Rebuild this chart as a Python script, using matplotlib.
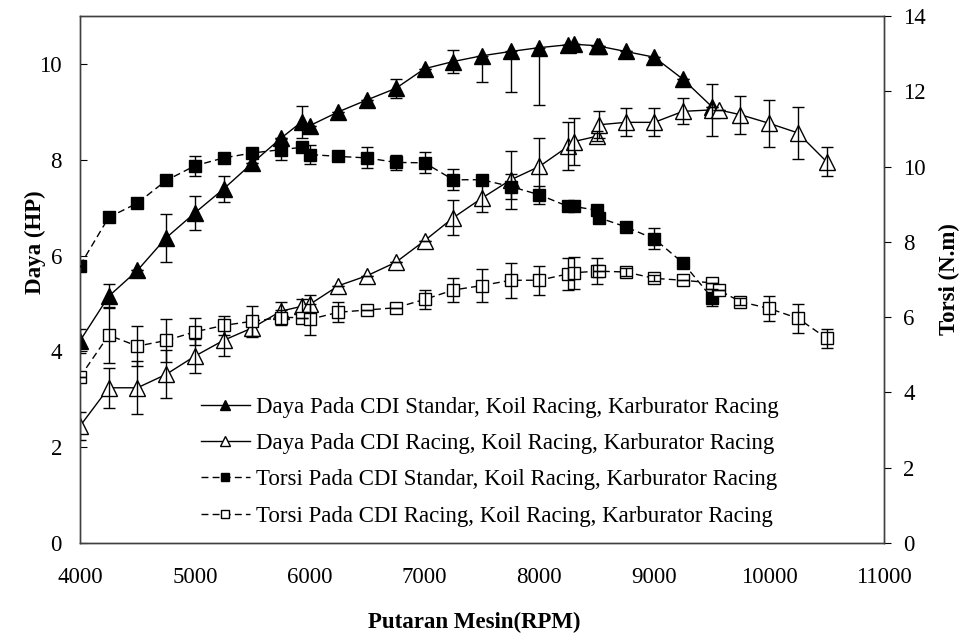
import matplotlib
matplotlib.use('Agg')
import matplotlib.pyplot as plt
import numpy as np

plt.rcParams['font.family'] = ['Liberation Serif', 'DejaVu Serif']

# RPM points (some runs were logged twice near 5900, 8250, 8500 and 9500)
rpm_std = [4000, 4250, 4500, 4750, 5000, 5250, 5500, 5750, 5930, 6000, 6250, 6500, 6750,
           7000, 7250, 7500, 7750, 8000, 8250, 8300, 8500, 8520, 8750, 9000, 9250, 9500]
rpm_rac = rpm_std + [9560, 9750, 10000, 10250, 10500]

# Daya (HP), CDI standar
daya_std = [4.22, 5.15, 5.69, 6.37, 6.89, 7.39, 7.93, 8.45, 8.79, 8.71, 9.00, 9.25, 9.49,
            9.90, 10.05, 10.17, 10.26, 10.34, 10.40, 10.41, 10.38, 10.37, 10.26, 10.14, 9.68, 9.11]
daya_std_lo = [0.25, 0.25, 0, 0.5, 0.35, 0.27, 0, 0, 0.34, 0, 0, 0, 0.2,
               0, 0.23, 0.54, 0.85, 1.19, 0, 0, 0, 0, 0, 0, 0, 0]
daya_std_hi = [0.25, 0.25, 0, 0.5, 0.35, 0.27, 0, 0, 0.34, 0, 0, 0, 0.2,
               0, 0.23, 0, 0, 0, 0, 0, 0, 0, 0, 0, 0, 0]

# Daya (HP), CDI racing
daya_rac = [2.44, 3.24, 3.24, 3.52, 3.90, 4.23, 4.49, 4.84, 4.94, 4.98, 5.37, 5.58, 5.86,
            6.31, 6.79, 7.20, 7.58, 7.86, 8.28, 8.38, 8.49, 8.73, 8.78, 8.78, 9.01, 9.04,
            9.04, 8.94, 8.76, 8.56, 7.96]
daya_rac_err = [0.3, 0.42, 0.55, 0.5, 0.36, 0.33, 0.19, 0.18, 0.15, 0.2, 0, 0, 0,
                0, 0.36, 0.3, 0.6, 0.6, 0.5, 0.5, 0.1, 0.28, 0.29, 0.29, 0.27, 0.55,
                0, 0.4, 0.49, 0.54, 0.3]

# Torsi (N.m), CDI standar
torsi_std = [7.37, 8.65, 9.03, 9.63, 10.02, 10.23, 10.36, 10.45, 10.51, 10.32, 10.27, 10.23, 10.11,
             10.10, 9.65, 9.65, 9.47, 9.25, 8.94, 8.94, 8.84, 8.64, 8.40, 8.08, 7.44, 6.52]
torsi_std_err = [0, 0, 0, 0, 0.26, 0, 0, 0.28, 0, 0.24, 0, 0.28, 0.21,
                 0.28, 0.28, 0, 0.33, 0.24, 0, 0, 0, 0, 0.1, 0.28, 0, 0.22]

# Torsi (N.m), CDI racing
torsi_rac = [4.41, 5.52, 5.23, 5.38, 5.61, 5.78, 5.89, 5.99, 5.99, 5.94, 6.13, 6.19, 6.25,
             6.47, 6.72, 6.84, 6.98, 6.98, 7.15, 7.18, 7.22, 7.22, 7.20, 7.03, 6.98, 6.91,
             6.72, 6.41, 6.23, 5.97, 5.44]
torsi_rac_err = [0, 0.74, 0.53, 0.57, 0.36, 0.25, 0.4, 0.2, 0, 0.42, 0.26, 0, 0,
                 0.25, 0.33, 0.43, 0.47, 0.38, 0.43, 0.43, 0.34, 0, 0.1, 0.08, 0, 0,
                 0, 0.1, 0.33, 0.38, 0.25]

labels = ['Daya Pada CDI Standar, Koil Racing, Karburator Racing',
          'Daya Pada CDI Racing, Koil Racing, Karburator Racing',
          'Torsi Pada CDI Standar, Koil Racing, Karburator Racing',
          'Torsi Pada CDI Racing, Koil Racing, Karburator Racing']

fig = plt.figure(figsize=(9.63, 6.39), dpi=100)
ax = fig.add_axes([80/963, 96/639, 804/963, 527/639])
ax2 = ax.twinx()

eb = dict(fmt='none', ecolor='black', elinewidth=1, capsize=4, capthick=1, zorder=5)

h1, = ax.plot(rpm_std, daya_std, '-^', color='black', lw=1, ms=12, mfc='black', mec='black')
ax.errorbar(rpm_std, daya_std, yerr=[daya_std_lo, daya_std_hi], **eb)
h2, = ax.plot(rpm_rac, daya_rac, '-^', color='black', lw=1, ms=12, mfc='white', mec='black')
ax.errorbar(rpm_rac, daya_rac, yerr=daya_rac_err, **eb)

h3, = ax2.plot(rpm_std, torsi_std, 's', ls=(0, (5, 3)), color='black', lw=1, ms=9,
               mfc='black', mec='black')
ax2.errorbar(rpm_std, torsi_std, yerr=torsi_std_err, **eb)
h4, = ax2.plot(rpm_rac, torsi_rac, 's', ls=(0, (5, 3)), color='black', lw=1, ms=9,
               mfc='white', mec='black')
ax2.errorbar(rpm_rac, torsi_rac, yerr=torsi_rac_err, **eb)

ax.set_xlim(4000, 11000)
ax.set_ylim(0, 11)
ax2.set_ylim(0, 14)
ax.set_xticks(np.arange(4000, 11001, 1000))
ax.set_yticks(np.arange(0, 11, 2))
ax2.set_yticks(np.arange(0, 15, 2))

ax.tick_params(axis='x', direction='in', length=0, pad=17, labelsize=16.5)
ax.tick_params(axis='y', direction='in', length=5, pad=13, labelsize=16.5)
ax2.tick_params(axis='y', direction='out', length=5, pad=9, labelsize=16.5)

for a in (ax, ax2):
    for s in a.spines.values():
        s.set_color('0.25')
        s.set_linewidth(1)

ax.set_xlabel('Putaran Mesin(RPM)', fontsize=16.5, fontweight='bold')
ax.xaxis.set_label_coords(0.49, -0.13)
ax.set_ylabel('Daya (HP)', fontsize=16.5, fontweight='bold', va='center')
ax.yaxis.set_label_coords(-0.056, 0.57)
ax2.set_ylabel('Torsi (N.m)', fontsize=16.5, fontweight='bold', va='center', rotation=90)
ax2.yaxis.set_label_coords(1.082, 0.5)

ax2.legend([h1, h2, h3, h4], labels, loc='upper left', bbox_to_anchor=(0.151, 0.277),
           frameon=False, fontsize=16.5, markerscale=0.6, handlelength=2.1,
           handletextpad=0.3, labelspacing=0.66, borderpad=0, borderaxespad=0)

fig.savefig('out.png', dpi=100)
